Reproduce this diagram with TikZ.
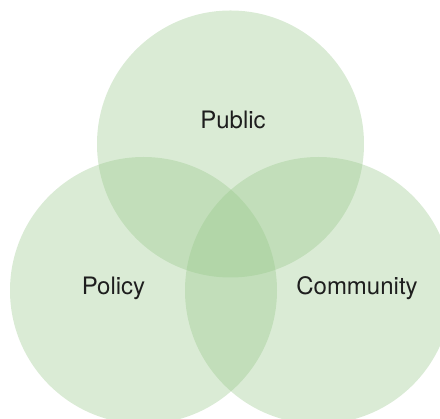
\documentclass[tikz,border=0pt]{standalone}
\usepackage{fontspec}
\setmainfont{TeX Gyre Heros}

\begin{document}
\begin{tikzpicture}[x=1pt,y=1pt]

        % 定义颜色
        \definecolor{vennfill}{RGB}{149, 198, 135}
        \definecolor{labeltext}{RGB}{30, 30, 30}

        \tikzset{
            venn/.style={fill=vennfill, fill opacity=0.35},
            vennlabel/.style={text=labeltext, font=\fontsize{24}{28}\selectfont, inner sep=0pt}
        }

        % 画布大小
        \useasboundingbox (0, 0) rectangle (440, 419);

        % 绘制三个圆
        \fill[venn] (230.5, 275) circle (133.5); % 上圆
        \fill[venn] (143.5, 128.5) circle (133.5); % 左圆
        \fill[venn] (318.5, 128.5) circle (133.5); % 右圆

        % 添加标签
        \node[vennlabel] (public) at (233, 299) {Public};
        \node[vennlabel] (policy) at (113.5, 131) {Policy};
        \node[vennlabel] (community) at (357, 131) {Community};

    \end{tikzpicture}
\end{document}
